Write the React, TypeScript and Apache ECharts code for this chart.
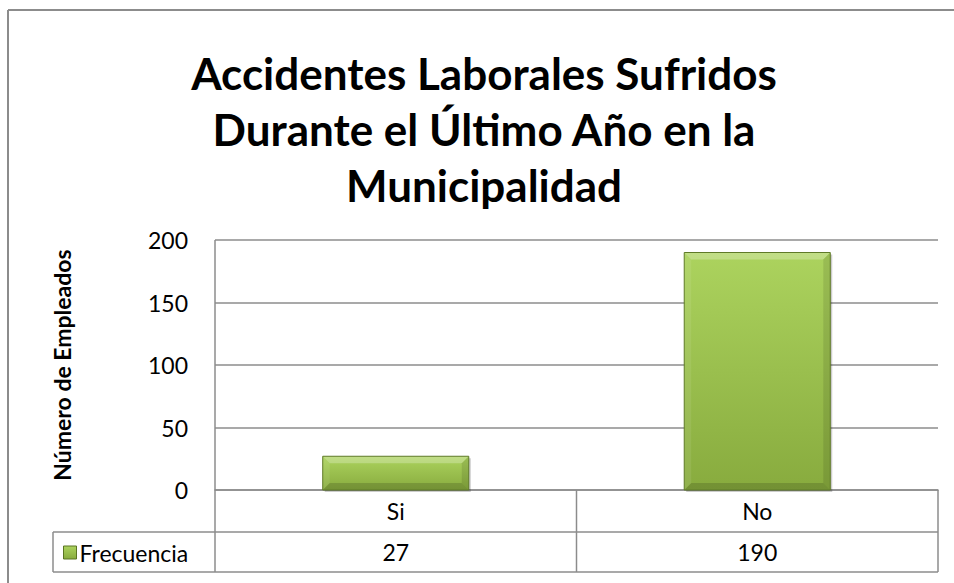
import React, { useEffect, useRef } from 'react';
import * as echarts from 'echarts';

const TITLE_LINES = ['Accidentes Laborales Sufridos', 'Durante el Último Año en la', 'Municipalidad'];
const CATEGORIES = ['Si', 'No'];
const FRECUENCIA = [27, 190];
const SERIES_NAME = 'Frecuencia';
const Y_AXIS_NAME = 'Número de Empleados';
const Y_MIN = 0;
const Y_MAX = 200;
const Y_STEP = 50;

const W = 954;
const H = 583;
const G = { left: 215, top: 240, right: 938, bottom: 490 };
const ROW1 = 532;
const ROW2 = 572;
const LEG_LEFT = 53;
const FONT = 'Lato, "Noto Sans", sans-serif';
const LINE = '#8c8c8c';
const LABEL_SIZE = 23;

const faceGradient = () =>
  new echarts.graphic.LinearGradient(0, 0, 0, 1, [
    { offset: 0, color: '#acd35e' },
    { offset: 1, color: '#88ab3e' },
  ]);

export default function App() {
  const ref = useRef<HTMLDivElement>(null);
  useEffect(() => {
    if (!ref.current) return;
    const chart = echarts.init(ref.current, undefined, { renderer: 'svg' });
    const midX = (G.left + G.right) / 2;
    const ln = (x1: number, y1: number, x2: number, y2: number, w = 1.5, c = LINE) => ({
      type: 'line',
      shape: { x1, y1, x2, y2 },
      style: { stroke: c, lineWidth: w },
      silent: true,
    });
    const option: any = {
      animation: false,
      backgroundColor: '#ffffff',
      textStyle: { fontFamily: FONT },
      grid: { left: G.left, top: G.top, right: W - G.right, bottom: H - G.bottom, containLabel: false },
      legend: {
        data: [{ name: SERIES_NAME, icon: 'rect', itemStyle: { color: faceGradient(), borderColor: '#5a7424', borderWidth: 1 } }],
        left: 58,
        top: 536,
        itemWidth: 13,
        itemHeight: 13,
        itemGap: 6,
        selectedMode: false,
        textStyle: { fontSize: LABEL_SIZE, color: '#000', fontFamily: FONT, padding: [0, 0, 0, -2] },
      },
      xAxis: [
        {
          type: 'category',
          data: CATEGORIES,
          position: 'bottom',
          axisLine: { show: true, lineStyle: { color: LINE, width: 1.5 } },
          axisTick: { show: false },
          axisLabel: { margin: 21, verticalAlign: 'middle', fontSize: LABEL_SIZE, color: '#000', fontFamily: FONT },
          splitLine: { show: false },
        },
        {
          type: 'category',
          data: CATEGORIES,
          position: 'bottom',
          offset: 0,
          axisLine: { show: false },
          axisTick: { show: false },
          axisLabel: {
            margin: 62,
            verticalAlign: 'middle',
            fontSize: LABEL_SIZE,
            color: '#000',
            fontFamily: FONT,
            formatter: (_v: string, i: number) => String(FRECUENCIA[i]),
          },
        },
      ],
      yAxis: {
        type: 'value',
        min: Y_MIN,
        max: Y_MAX,
        interval: Y_STEP,
        name: Y_AXIS_NAME,
        nameLocation: 'middle',
        nameRotate: 90,
        nameGap: 153,
        nameTextStyle: { fontSize: 23, fontWeight: 'bold', color: '#000', fontFamily: FONT, verticalAlign: 'middle' },
        axisLine: { show: false },
        axisTick: { show: false },
        axisLabel: { margin: 27, fontSize: LABEL_SIZE, color: '#000', fontFamily: FONT },
        splitLine: { show: true, lineStyle: { color: LINE, width: 1.5 } },
      },
      series: [
        {
          name: SERIES_NAME,
          type: 'custom',
          xAxisIndex: 0,
          yAxisIndex: 0,
          itemStyle: { color: '#9bc34a' },
          encode: { x: 0, y: 1 },
          data: CATEGORIES.map((_c, i) => [i, FRECUENCIA[i]]),
          renderItem: (_params: any, api: any) => {
            const idx = api.value(0);
            const v = api.value(1);
            const top = api.coord([idx, v]);
            const base = api.coord([idx, 0]);
            const bw = api.size([1, 0])[0] * 0.404;
            const x0 = top[0] - bw / 2;
            const x1 = top[0] + bw / 2;
            const y0 = top[1];
            const y1 = base[1];
            const h = y1 - y0;
            const b = Math.min(7, h / 3, bw / 4);
            return {
              type: 'group',
              children: [
                { type: 'rect', shape: { x: x0 + 2, y: y0 + 2, width: bw, height: h }, style: { fill: 'rgba(0,0,0,0.2)' } },
                { type: 'rect', shape: { x: x0, y: y0, width: bw, height: h }, style: { fill: faceGradient() } },
                { type: 'polygon', shape: { points: [[x0, y0], [x1, y0], [x1 - b, y0 + b], [x0 + b, y0 + b]] }, style: { fill: 'rgba(255,255,255,0.25)' } },
                { type: 'polygon', shape: { points: [[x0, y0], [x0 + b, y0 + b], [x0 + b, y1 - b], [x0, y1]] }, style: { fill: 'rgba(255,255,255,0.08)' } },
                { type: 'polygon', shape: { points: [[x1, y0], [x1, y1], [x1 - b, y1 - b], [x1 - b, y0 + b]] }, style: { fill: 'rgba(0,0,0,0.10)' } },
                { type: 'polygon', shape: { points: [[x0, y1], [x1, y1], [x1 - b, y1 - b], [x0 + b, y1 - b]] }, style: { fill: 'rgba(0,0,0,0.15)' } },
                { type: 'rect', shape: { x: x0, y: y0, width: bw, height: h }, style: { fill: 'none', stroke: '#5f7a28', lineWidth: 1 } },
              ],
            };
          },
        },
      ],
      graphic: [
        ln(8, 10, W, 10, 2),
        ln(8, 10, 8, H, 2),
        ln(G.left, G.top, G.left, ROW2),
        ln(LEG_LEFT, ROW1, G.right, ROW1),
        ln(LEG_LEFT, ROW2, G.right, ROW2),
        ln(LEG_LEFT, ROW1, LEG_LEFT, ROW2),
        ln(G.right, G.bottom, G.right, ROW2),
        ln(midX, G.bottom, midX, ROW2),
        {
          type: 'text',
          x: 484,
          y: 45,
          silent: true,
          style: {
            text: TITLE_LINES.join('\n'),
            fontFamily: FONT,
            fontWeight: 'bold',
            fontSize: 44,
            lineHeight: 56,
            fill: '#000',
            textAlign: 'center',
            textVerticalAlign: 'top',
          },
        },
      ],
    };
    chart.setOption(option);
    return () => chart.dispose();
  }, []);
  return <div ref={ref} style={{ position: 'fixed', left: 0, top: 0, width: W, height: H }} />;
}
